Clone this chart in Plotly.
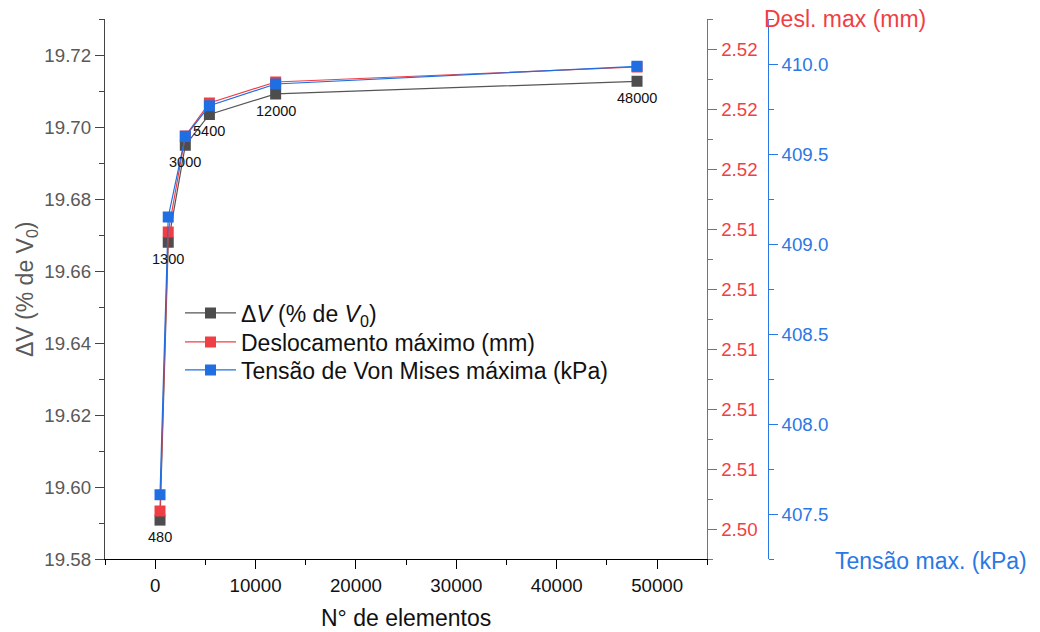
import plotly.graph_objects as go

# Mesh convergence study: number of elements vs. three response quantities
elementos = [480, 1300, 3000, 5400, 12000, 48000]
delta_v = [19.5908, 19.6680, 19.6949, 19.7035, 19.7092, 19.7127]      # % de V0
deslocamento = [2.5046, 2.5139, 2.5171, 2.5182, 2.5189, 2.5194]       # mm
tensao = [407.607, 409.150, 409.598, 409.768, 409.889, 409.987]      # kPa
rotulos = [str(n) for n in elementos]

FONT = "Liberation Sans, Arial, sans-serif"
GRAY_LINE = "#555555"
GRAY_MARK = "#4d4d4d"
RED = "#EF3F45"
BLUE = "#1F6FE2"
BLUE_AX = "#2A78E4"
AX_GRAY = "#595959"

W, H = 1040, 632
ML, MR, MT, MB = 105, 10, 19, 73
PW = W - ML - MR
PH = H - MT - MB


def px_x(px):
    return (px - ML) / PW


def px_y(py):
    return (H - MB - py) / PH


fig = go.Figure()

fig.add_trace(go.Scatter(
    x=elementos, y=delta_v, yaxis="y",
    mode="lines+markers",
    name="Δ<i>V</i> (% de <i>V</i><sub>0</sub>)",
    legend="legend",
    line=dict(color=GRAY_LINE, width=1.2),
    marker=dict(symbol="square", size=11, color=GRAY_MARK),
))
fig.add_trace(go.Scatter(
    x=elementos, y=deslocamento, yaxis="y2",
    mode="lines+markers",
    name="Deslocamento máximo (mm)",
    legend="legend2",
    line=dict(color=RED, width=1.2),
    marker=dict(symbol="square", size=11, color=RED),
))
fig.add_trace(go.Scatter(
    x=elementos, y=tensao, yaxis="y3",
    mode="lines+markers",
    name="Tensão de Von Mises máxima (kPa)",
    legend="legend3",
    line=dict(color=BLUE, width=1.2),
    marker=dict(symbol="square", size=11, color=BLUE),
))

# element-count labels just below each ΔV point
for n, dv, lab in zip(elementos, delta_v, rotulos):
    fig.add_annotation(
        x=n, y=dv, xref="x", yref="y", text=lab, showarrow=False,
        yshift=-17, xanchor="center", yanchor="middle",
        font=dict(family=FONT, size=14.5, color="#111111"),
    )


def legend_row(py):
    return dict(
        x=px_x(180), y=px_y(py), xanchor="left", yanchor="middle",
        bgcolor="rgba(0,0,0,0)",
        font=dict(family=FONT, size=23, color="#111111"),
        itemwidth=51,
    )


tick_font = dict(family=FONT, size=18.7)

fig.update_layout(
    width=W, height=H,
    margin=dict(l=ML, r=MR, t=MT, b=MB),
    paper_bgcolor="white", plot_bgcolor="white",
    font=dict(family=FONT),
    showlegend=True,
    legend=legend_row(313),
    legend2=legend_row(342),
    legend3=legend_row(370),
    xaxis=dict(
        domain=[0, px_x(707.3)],
        range=[-5000, 55000],
        tick0=0, dtick=10000, tickformat="d",
        showline=True, linecolor="#000000", linewidth=1.3,
        ticks="outside", ticklen=9, tickwidth=1.3, tickcolor="#000000",
        minor=dict(dtick=5000, tick0=0, ticks="outside", ticklen=5,
                   tickwidth=1.3, tickcolor="#000000", showgrid=False),
        tickfont=dict(tick_font, color="#111111"),
        showgrid=False, zeroline=False,
    ),
    yaxis=dict(
        range=[19.58, 19.73],
        tick0=19.58, dtick=0.02, tickformat=".2f",
        showline=True, linecolor="#444444", linewidth=1.3,
        ticks="outside", ticklen=9, tickwidth=1.3, tickcolor="#444444",
        minor=dict(dtick=0.01, tick0=19.58, ticks="outside", ticklen=5,
                   tickwidth=1.3, tickcolor="#444444", showgrid=False),
        tickfont=dict(tick_font, color=AX_GRAY),
        showgrid=False, zeroline=False,
    ),
    yaxis2=dict(
        overlaying="y", side="right", anchor="x",
        range=[2.503, 2.521],
        tick0=2.504, dtick=0.002, tickformat=".2f",
        showline=True, linecolor=RED, linewidth=1.3,
        ticks="outside", ticklen=9, tickwidth=1.3, tickcolor=RED,
        minor=dict(dtick=0.001, tick0=2.503, ticks="outside", ticklen=5,
                   tickwidth=1.3, tickcolor=RED, showgrid=False),
        tickfont=dict(tick_font, color=RED),
        showgrid=False, zeroline=False,
    ),
    yaxis3=dict(
        overlaying="y", side="right", anchor="free", position=px_x(767.7),
        range=[407.25, 410.25],
        tick0=407.5, dtick=0.5, tickformat=".1f",
        showline=True, linecolor=BLUE_AX, linewidth=1.3,
        ticks="outside", ticklen=9, tickwidth=1.3, tickcolor=BLUE_AX,
        minor=dict(dtick=0.25, tick0=407.25, ticks="outside", ticklen=5,
                   tickwidth=1.3, tickcolor=BLUE_AX, showgrid=False),
        tickfont=dict(tick_font, color=BLUE_AX),
        showgrid=False, zeroline=False,
    ),
)

title_font = dict(family=FONT, size=23)
fig.add_annotation(
    xref="paper", yref="paper", x=px_x(26), y=px_y(289),
    text="ΔV (% de V<sub>0</sub>)", textangle=-90, showarrow=False,
    xanchor="center", yanchor="middle", font=dict(title_font, color=AX_GRAY),
)
fig.add_annotation(
    xref="paper", yref="paper", x=px_x(406), y=px_y(618),
    text="N° de elementos", showarrow=False,
    xanchor="center", yanchor="middle", font=dict(title_font, color="#111111"),
)
fig.add_annotation(
    xref="paper", yref="paper", x=px_x(762), y=px_y(19),
    text="Desl. max (mm)", showarrow=False,
    xanchor="left", yanchor="middle", font=dict(title_font, color=RED),
)
fig.add_annotation(
    xref="paper", yref="paper", x=px_x(833), y=px_y(561),
    text="Tensão max. (kPa)", showarrow=False,
    xanchor="left", yanchor="middle", font=dict(title_font, color=BLUE_AX),
)

fig.write_html("out.html")
